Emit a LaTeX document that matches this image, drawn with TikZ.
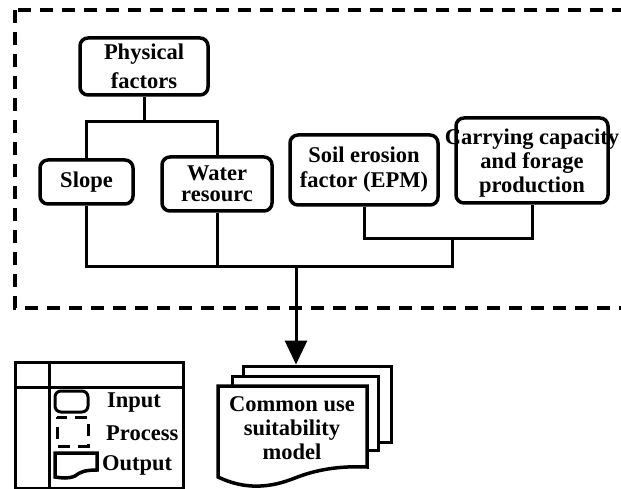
\documentclass[tikz,border=0pt]{standalone}
\usepackage{fontspec}
\setmainfont{Liberation Serif}
\usetikzlibrary{arrows.meta}
\tikzset{
  txt/.style={font=\fontsize{22.5}{24}\selectfont\bfseries,align=center,inner sep=0pt},
  inbox/.style={txt,draw,line width=3.5pt,rounded corners=8pt},
  link/.style={line width=3pt},
  sheet/.style={draw,fill=white,line width=3pt,inner sep=0pt},
}
\begin{document}
\begin{tikzpicture}[x=1pt,y=-1pt]
   \clip (0,0) rectangle (621,489);
   \draw[line width=4pt,dash pattern=on 13pt off 9pt] (15,10) rectangle (660,308);
   \node[inbox,minimum width=128pt,minimum height=57pt,font=\fontsize{22.5}{29}\selectfont\bfseries] (phys) at (144,66.5) {Physical\\factors};
   \node[inbox,minimum width=93pt,minimum height=44pt] (slope) at (86.5,182) {Slope};
   \node[inbox,minimum width=110pt,minimum height=54pt,font=\fontsize{22.5}{21}\selectfont\bfseries] (water) at (217,184) {Water\\resourc};
   \node[inbox,minimum width=148pt,minimum height=70pt,font=\fontsize{22.5}{25}\selectfont\bfseries] (soil) at (364,170) {Soil erosion\\factor (EPM)};
   \node[inbox,minimum width=152pt,minimum height=85pt] (carry) at (532,160.5) {};
   \node[txt] (carrytxt) at (532,163) {Carrying capacity\\and forage\\production};
   \coordinate (physjoin) at (144,122);
   \coordinate (soiljoin) at (452,238);
   \coordinate (busend) at (452,266);
   \coordinate (busmid) at (296,266);
   \draw[link] (phys.south) -- (physjoin);
   \draw[link] (slope.north) |- (physjoin) -| (water.north);
   \draw[link] (slope.south) |- (busend) -- (soiljoin) -| (carry.south);
   \draw[link] (soil.south) |- (soiljoin);
   \draw[link] (water.south) -- (water.south |- busend);
   \node[sheet,minimum width=148pt,minimum height=76pt] (back) at (317,404) {};
   \node[sheet,minimum width=146pt,minimum height=74pt] (middle) at (305,413) {};
   \draw[sheet,line width=3.5pt] (218,386) -- (367,386) -- (367,467) .. controls (345,466) and (320,468) .. (295,478) .. controls (270,488) and (245,490) .. (218,477) -- cycle;
   \node[txt] (model) at (292,428) {Common use\\suitability\\model};
   \draw[link,-{Triangle[width=22pt,length=24pt]}] (busmid) -- (busmid |- back.north);
   \draw[line width=3pt] (15,362) rectangle (183,488);
   \draw[line width=3pt] (49,362) -- (49,488) (15,387) -- (183,387);
   \draw[line width=3pt,rounded corners=6pt] (55,391) rectangle (88,412);
   \draw[line width=3pt,dash pattern=on 12pt off 8pt,dash phase=-10pt] (57,417) rectangle (88,446);
   \draw[line width=3.5pt] (55,453) -- (97,453) -- (97,470) .. controls (85,470) and (80,472) .. (75,476) .. controls (68,479) and (62,478) .. (55,477) -- cycle;
   \foreach \x/\y/\t in {107/403/Input,106/433/Process,102/465/Output}
      \node[txt,anchor=west] (lab\t) at (\x,\y) {\t};
\end{tikzpicture}
\end{document}
